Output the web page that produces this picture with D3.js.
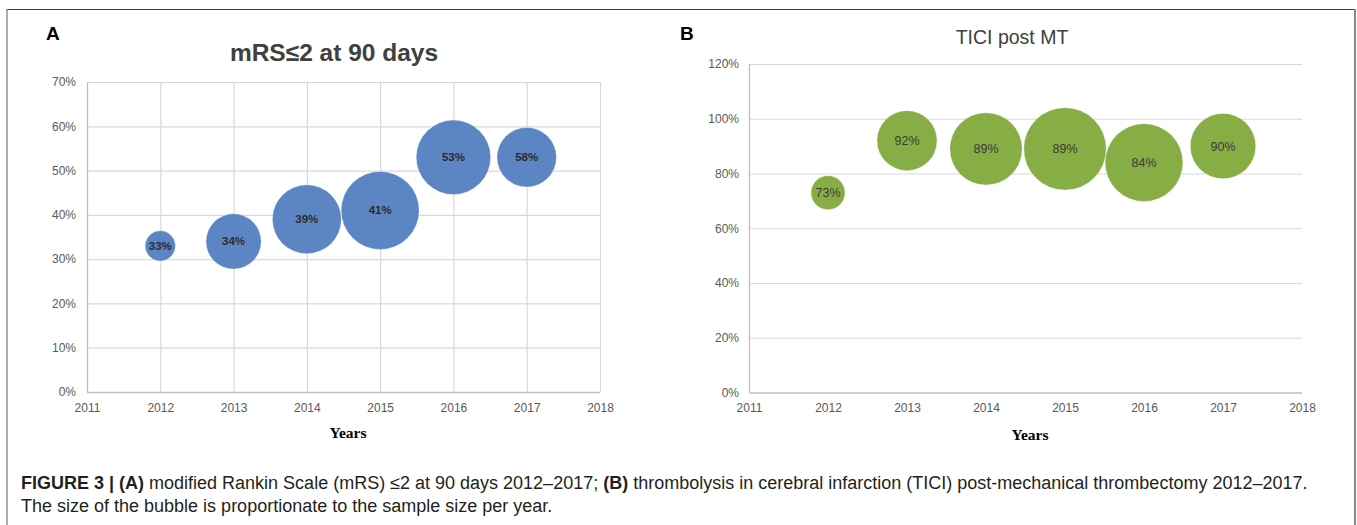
<!DOCTYPE html>
<html><head><meta charset="utf-8">
<script src="https://cdn.jsdelivr.net/npm/d3@7"></script>
<style>html,body{margin:0;padding:0;background:#fff;}svg{display:block;}</style>
</head><body>
<script>
// ---- data ----
const years = [2012, 2013, 2014, 2015, 2016, 2017];
const xTicks = [2011, 2012, 2013, 2014, 2015, 2016, 2017, 2018];
// Panel A: mRS<=2 at 90 days (bubble y position in %, printed label, relative sample size)
const mrsValues = [33, 34, 39, 41, 53, 53];
const mrsLabels = ["33%", "34%", "39%", "41%", "53%", "58%"];
const mrsSizes = [15, 50, 78, 100, 91, 58];
const mrsYTicks = [0, 10, 20, 30, 40, 50, 60, 70];
// Panel B: TICI post MT
const ticiValues = [73, 92, 89, 89, 84, 90];
const ticiLabels = ["73%", "92%", "89%", "89%", "84%", "90%"];
const ticiSizes = [17, 53, 77, 100, 89, 63];
const ticiYTicks = [0, 20, 40, 60, 80, 100, 120];

const W = 1357, H = 525;
const svg = d3.select("body").append("svg").attr("width", W).attr("height", H);
const sans = "'Liberation Sans', Arial, Helvetica, sans-serif";
const serif = "'Liberation Serif', 'Times New Roman', serif";

// frame
svg.append("line").attr("x1", 7).attr("x2", 1355).attr("y1", 9.5).attr("y2", 9.5).attr("stroke", "#3a3a3a").attr("stroke-width", 1.2);
svg.append("line").attr("x1", 7).attr("x2", 7).attr("y1", 9).attr("y2", H).attr("stroke", "#777").attr("stroke-width", 1.2);
svg.append("line").attr("x1", 1355).attr("x2", 1355).attr("y1", 9).attr("y2", H).attr("stroke", "#888").attr("stroke-width", 2);

function panel(cfg) {
  const g = svg.append("g");
  const x = d3.scaleLinear().domain([2011, 2018]).range([cfg.left, cfg.right]);
  const y = d3.scaleLinear().domain([0, cfg.yMax]).range([cfg.bottom, cfg.top]);
  const r = d3.scaleSqrt().domain([0, 100]).range([0, cfg.maxR]);

  // horizontal grid
  g.append("g").selectAll("line").data(cfg.yTicks.filter(d => d > 0)).join("line")
    .attr("x1", cfg.left).attr("x2", cfg.right)
    .attr("y1", d => y(d) + 0.5).attr("y2", d => y(d) + 0.5)
    .attr("stroke", "#d9d9d9").attr("stroke-width", 1.2);
  if (cfg.vgrid) {
    g.append("g").selectAll("line").data(xTicks.filter(d => d > 2011)).join("line")
      .attr("x1", d => x(d) + 0.5).attr("x2", d => x(d) + 0.5)
      .attr("y1", cfg.top).attr("y2", cfg.bottom)
      .attr("stroke", "#d9d9d9").attr("stroke-width", 1.2);
  }
  // axes lines
  g.append("line").attr("x1", cfg.left + 0.5).attr("x2", cfg.left + 0.5).attr("y1", cfg.top).attr("y2", cfg.bottom)
    .attr("stroke", "#bfbfbf").attr("stroke-width", 1.3);
  g.append("line").attr("x1", cfg.left).attr("x2", cfg.right).attr("y1", cfg.bottom + 0.5).attr("y2", cfg.bottom + 0.5)
    .attr("stroke", "#bfbfbf").attr("stroke-width", 1.3);

  // y tick labels via axis
  const yAxis = d3.axisLeft(y).tickValues(cfg.yTicks).tickSize(0).tickPadding(0).tickFormat(d => d + "%");
  const ya = g.append("g").attr("transform", `translate(${cfg.yLabelX},0)`).call(yAxis);
  ya.select(".domain").remove();
  ya.selectAll("text").attr("font-family", sans).attr("font-size", 12).attr("fill", "#595959");

  const xAxis = d3.axisBottom(x).tickValues(xTicks).tickSize(0).tickPadding(0).tickFormat(d3.format("d"));
  const xa = g.append("g").attr("transform", `translate(0,${cfg.bottom + 11})`).call(xAxis);
  xa.select(".domain").remove();
  xa.selectAll("text").attr("font-family", sans).attr("font-size", 12).attr("fill", "#595959");

  // bubbles
  const data = years.map((yr, i) => ({ yr, v: cfg.values[i], lab: cfg.labels[i], s: cfg.sizes[i] }));
  g.append("g").selectAll("circle").data(data).join("circle")
    .attr("cx", d => x(d.yr)).attr("cy", d => y(d.v)).attr("r", d => r(d.s))
    .attr("fill", cfg.color).attr("stroke", "#ffffff").attr("stroke-opacity", 0.35).attr("stroke-width", 0.8);
  g.append("g").selectAll("text").data(data).join("text")
    .attr("x", d => x(d.yr)).attr("y", d => y(d.v)).attr("dy", "0.35em")
    .attr("text-anchor", "middle").attr("font-family", sans)
    .attr("font-size", cfg.labelSize).attr("font-weight", cfg.labelWeight).attr("fill", cfg.labelColor)
    .text(d => d.lab);

  // panel letter, title, x title
  g.append("text").attr("x", cfg.letterX).attr("y", 40).attr("font-family", sans).attr("font-weight", "bold")
    .attr("font-size", 19).attr("fill", "#000").text(cfg.letter);
  g.append("text").attr("x", cfg.titleX).attr("y", cfg.titleY).attr("text-anchor", "middle").attr("font-family", sans)
    .attr("font-weight", cfg.titleWeight).attr("font-size", cfg.titleSize).attr("fill", "#404040").text(cfg.title);
  g.append("text").attr("x", cfg.xTitleX).attr("y", cfg.xTitleY).attr("text-anchor", "middle").attr("font-family", serif)
    .attr("font-weight", "bold").attr("font-size", 15.5).attr("fill", "#000").text("Years");
}

panel({
  left: 87, right: 600, top: 82, bottom: 392, yMax: 70, yTicks: mrsYTicks, vgrid: true,
  yLabelX: 76, maxR: 39, values: mrsValues, labels: mrsLabels, sizes: mrsSizes,
  color: "#5c86c3", labelSize: 11.5, labelWeight: "bold", labelColor: "#2b2b2b",
  letter: "A", letterX: 46, title: "mRS\u22642 at 90 days", titleX: 334, titleY: 61, titleSize: 24.5, titleWeight: "bold",
  xTitleX: 348, xTitleY: 438
});
panel({
  left: 749, right: 1302, top: 64, bottom: 392.5, yMax: 120, yTicks: ticiYTicks, vgrid: false,
  yLabelX: 739, maxR: 41.2, values: ticiValues, labels: ticiLabels, sizes: ticiSizes,
  color: "#87ae45", labelSize: 12.5, labelWeight: "normal", labelColor: "#3a3a3a",
  letter: "B", letterX: 680, title: "TICI post MT", titleX: 1012, titleY: 44, titleSize: 19.5, titleWeight: "normal",
  xTitleX: 1030, xTitleY: 440
});

// caption
const cap = svg.append("g").attr("font-family", sans).attr("font-size", 18).attr("fill", "#231f20");
const l1 = cap.append("text").attr("x", 21).attr("y", 488.5);
l1.append("tspan").attr("font-weight", "bold").text("FIGURE 3 | (A)");
l1.append("tspan").text(" modified Rankin Scale (mRS) \u22642 at 90 days 2012\u20132017; ");
l1.append("tspan").attr("font-weight", "bold").text("(B)");
l1.append("tspan").text(" thrombolysis in cerebral infarction (TICI) post-mechanical thrombectomy 2012\u20132017.");
cap.append("text").attr("x", 21).attr("y", 511.5).text("The size of the bubble is proportionate to the sample size per year.");
</script>
</body></html>
